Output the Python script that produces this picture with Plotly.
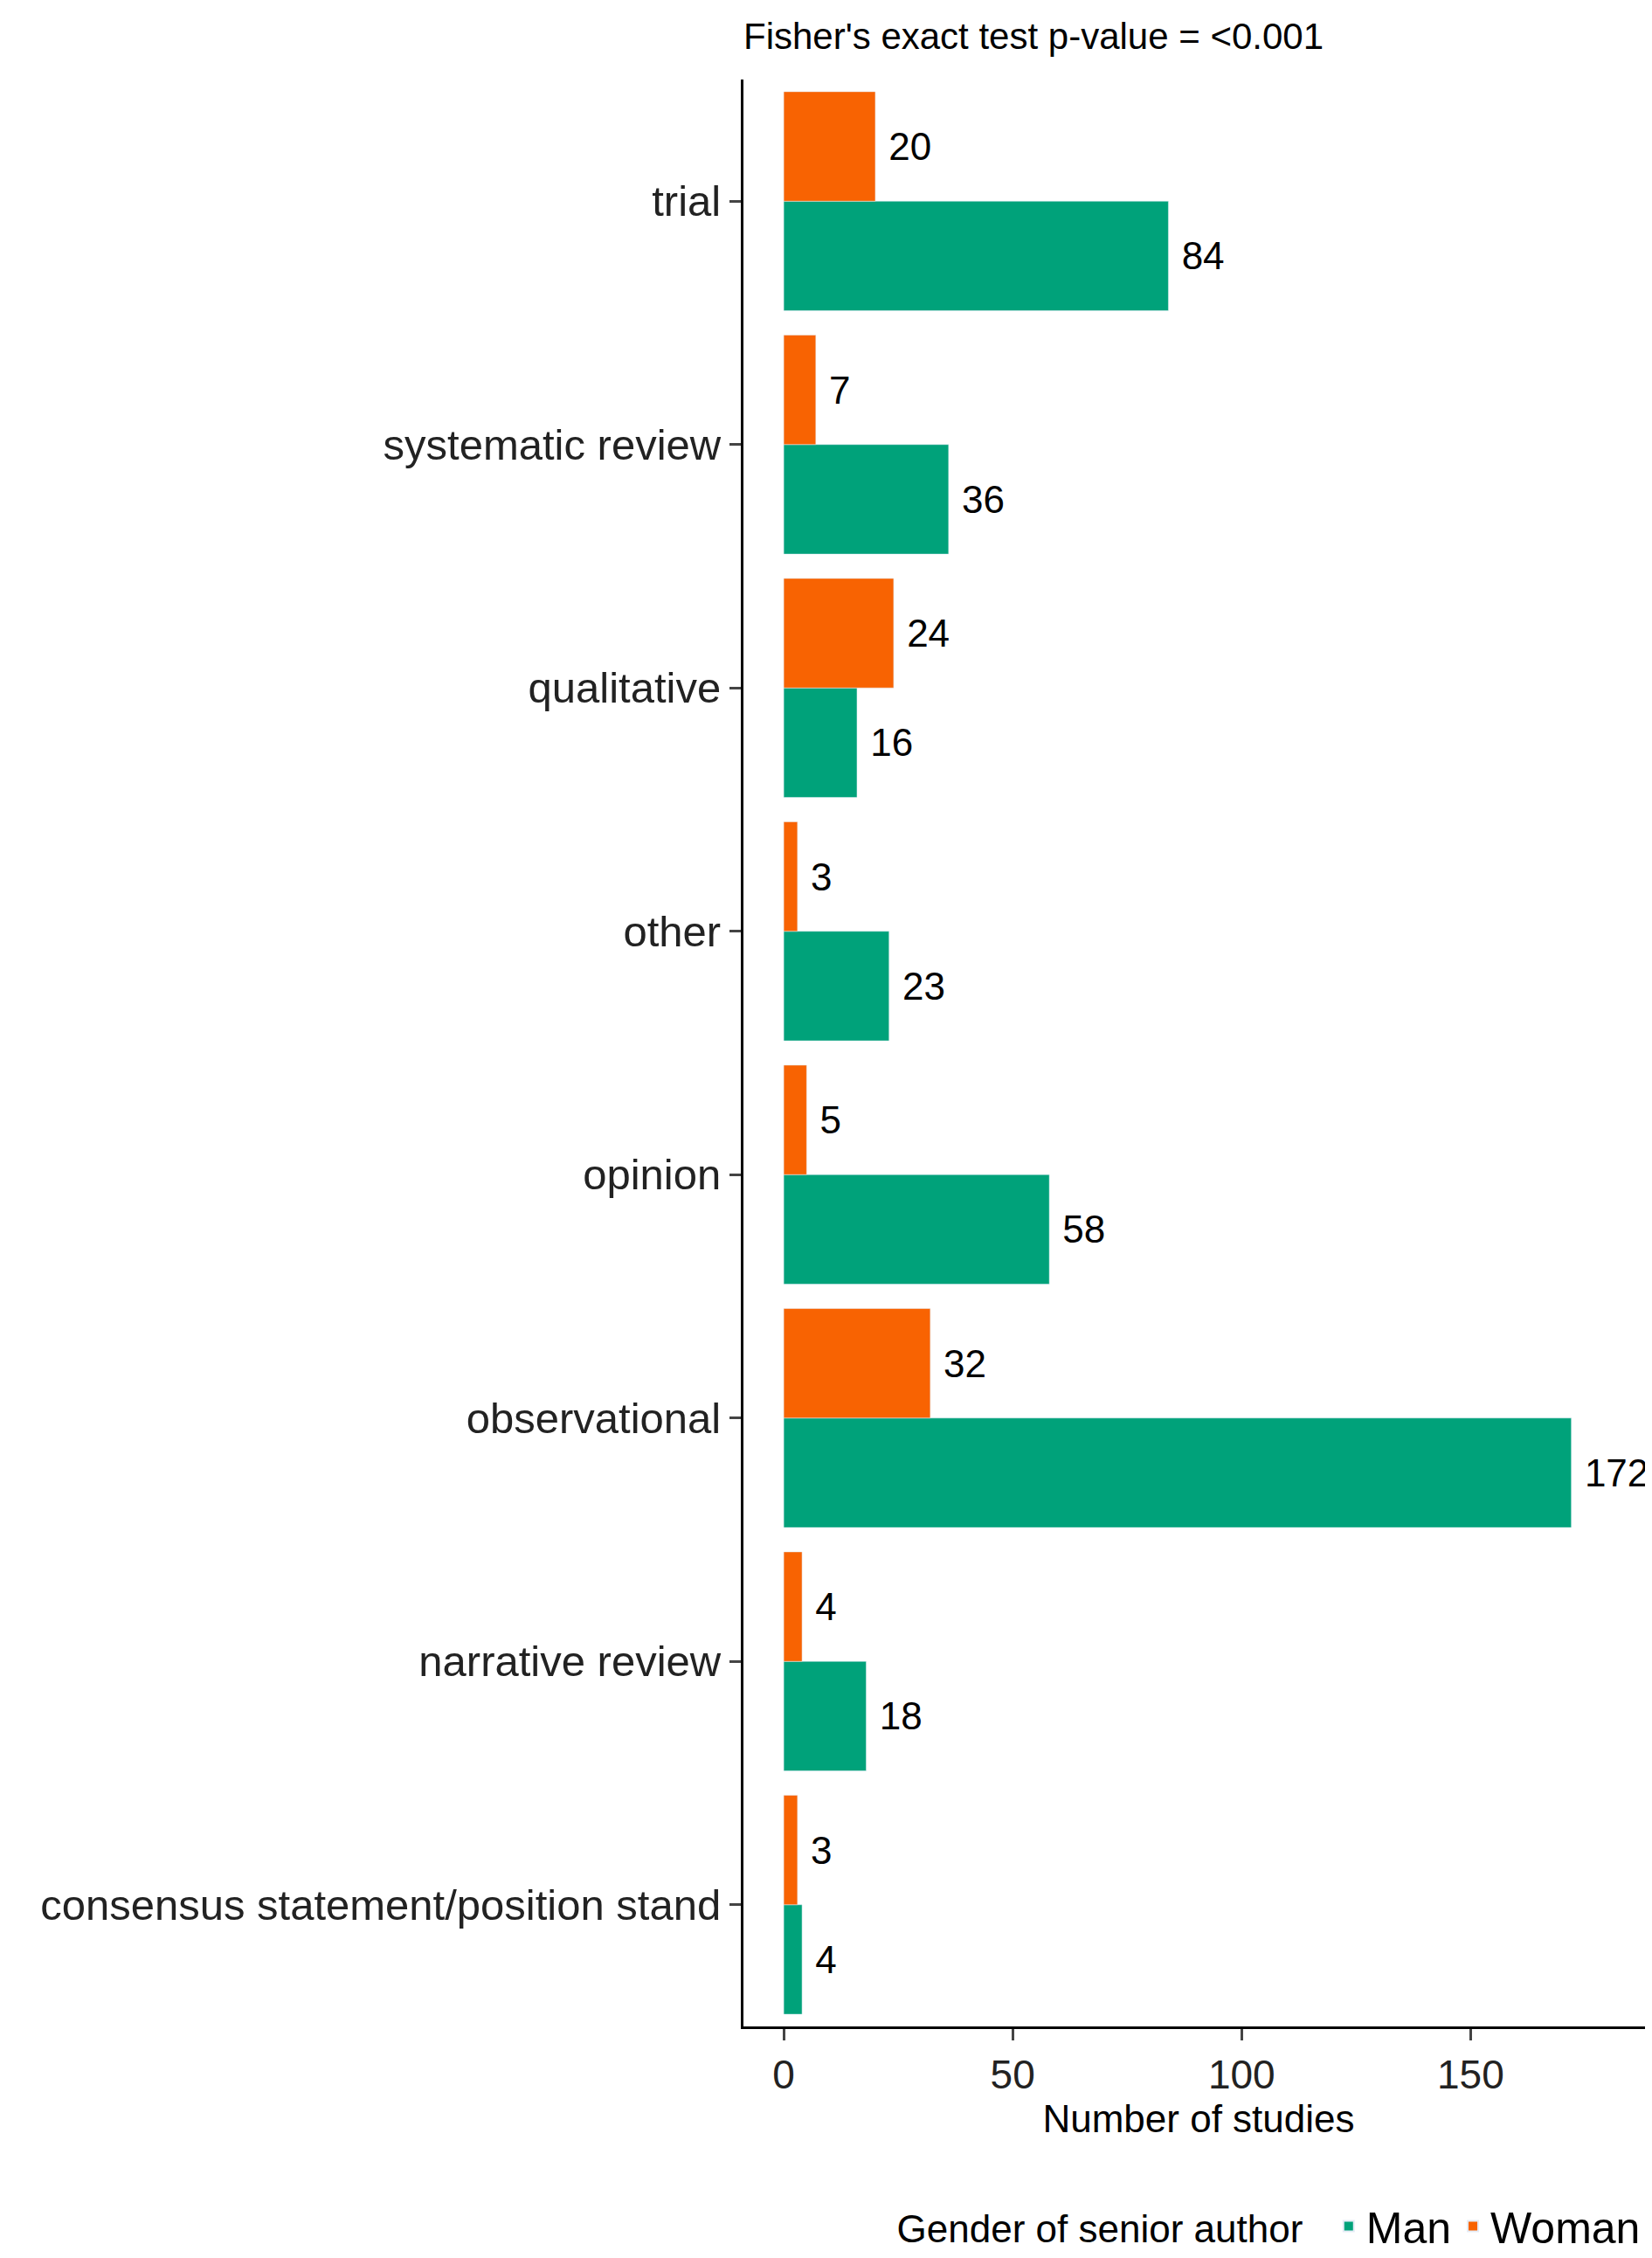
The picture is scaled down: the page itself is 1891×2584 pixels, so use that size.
import plotly.graph_objects as go

categories = ["consensus statement/position stand", "narrative review", "observational",
              "opinion", "other", "qualitative", "systematic review", "trial"]
man = [4, 18, 172, 58, 23, 16, 36, 84]
woman = [3, 4, 32, 5, 3, 24, 7, 20]

MAN_C = "#00A27A"
WOMAN_C = "#F86302"
F = "Liberation Sans, Arial, sans-serif"

fig = go.Figure()
fig.add_bar(y=categories, x=man, orientation="h", name="Man", marker_color=MAN_C,
            text=[f" {v}" for v in man], textposition="outside", cliponaxis=False,
            textfont=dict(size=44, color="black"))
fig.add_bar(y=categories, x=woman, orientation="h", name="Woman", marker_color=WOMAN_C,
            text=[f" {v}" for v in woman], textposition="outside", cliponaxis=False,
            textfont=dict(size=44, color="black"))

fig.update_layout(
    width=1891, height=2584, barmode="group", bargap=0.1, bargroupgap=0,
    plot_bgcolor="white", paper_bgcolor="white",
    font=dict(family=F, size=44, color="black"),
    margin=dict(l=843, r=6, t=83, b=261),
    title=dict(text="Fisher's exact test p-value = <0.001", x=843/1891, xanchor="left",
               y=1-33/2584, yanchor="middle", font=dict(size=42)),
    xaxis=dict(range=[-8.8, 190], tickvals=[0, 50, 100, 150], showline=True, linecolor="black",
               linewidth=3, ticks="outside", ticklen=13, tickwidth=3, showgrid=False, zeroline=False,
               title=dict(text="Number of studies", font=dict(size=44), standoff=8),
               tickfont=dict(size=46, color="#222")),
    yaxis=dict(showline=True, linecolor="black", linewidth=3, ticks="outside", ticklen=13,
               tickwidth=3, showgrid=False, tickfont=dict(size=49, color="#222")),
    legend=dict(orientation="h", x=0.99, xanchor="right", y=-0.085, yanchor="top",
                title=dict(text="Gender of senior author  ", font=dict(size=44)),
                font=dict(size=50), itemsizing="constant"),
    uniformtext=dict(minsize=44, mode="show"),
)
fig.write_html("out.html")
